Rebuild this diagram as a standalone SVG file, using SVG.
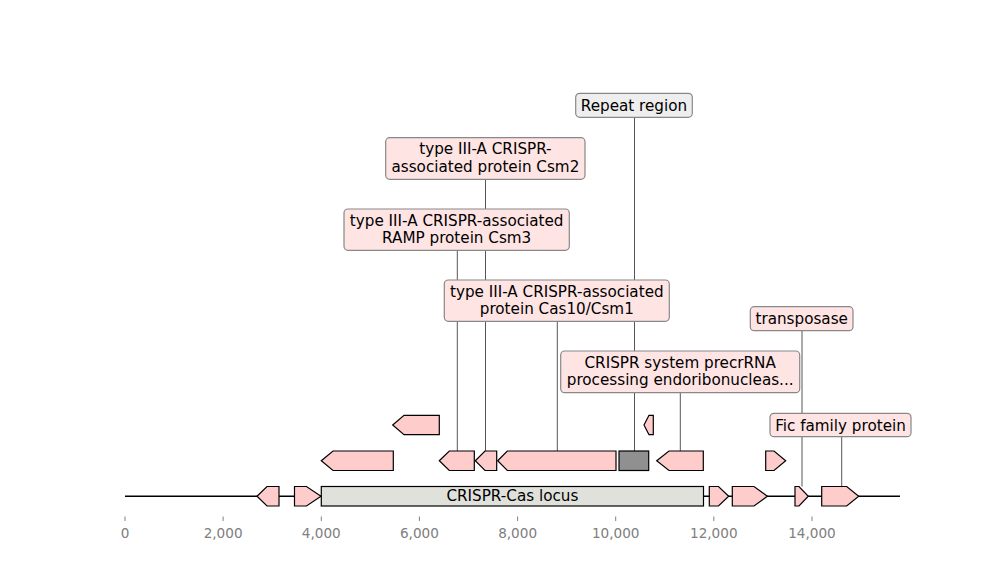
<svg xmlns="http://www.w3.org/2000/svg" width="1000" height="580" viewBox="0 0 1000 580">
<style>
.feat{fill:#ffcccc;stroke:#000;stroke-width:1.2;stroke-linejoin:miter}
.lbl{fill:#ffe4e4;stroke:#888;stroke-width:1.2}
.lblg{fill:#eeeeee;stroke:#888;stroke-width:1.2}
.t{font-family:"DejaVu Sans",sans-serif;font-size:15.2px;fill:#000;text-anchor:middle}
.conn{stroke:#444;stroke-width:0.9;fill:none}
.tick{stroke:#808080;stroke-width:1}
.ax{font-family:"DejaVu Sans",sans-serif;font-size:13.6px;fill:#808080;text-anchor:middle}
</style>
<rect width="1000" height="580" fill="#fff"/>
<g id="connectors">
<line class="conn" x1="485.5" y1="179.3" x2="485.5" y2="451"/>
<line class="conn" x1="457.3" y1="250.3" x2="457.3" y2="451"/>
<line class="conn" x1="557.3" y1="321.3" x2="557.3" y2="451"/>
<line class="conn" x1="634.5" y1="117.3" x2="634.5" y2="451"/>
<line class="conn" x1="680.3" y1="392.7" x2="680.3" y2="451"/>
<line class="conn" x1="802" y1="330.7" x2="802" y2="486.5"/>
<line class="conn" x1="841.7" y1="436.7" x2="841.7" y2="486.5"/>
</g>
<g id="axis">
<line x1="125" y1="496.25" x2="900" y2="496.25" stroke="#000" stroke-width="1.6"/>
<line class="tick" x1="125" y1="516.5" x2="125" y2="521"/>
<line class="tick" x1="223.1" y1="516.5" x2="223.1" y2="521"/>
<line class="tick" x1="321.3" y1="516.5" x2="321.3" y2="521"/>
<line class="tick" x1="419.4" y1="516.5" x2="419.4" y2="521"/>
<line class="tick" x1="517.6" y1="516.5" x2="517.6" y2="521"/>
<line class="tick" x1="615.7" y1="516.5" x2="615.7" y2="521"/>
<line class="tick" x1="713.8" y1="516.5" x2="713.8" y2="521"/>
<line class="tick" x1="812" y1="516.5" x2="812" y2="521"/>
<text class="ax" x="125" y="537.7">0</text>
<text class="ax" x="223.1" y="537.7">2,000</text>
<text class="ax" x="321.3" y="537.7">4,000</text>
<text class="ax" x="419.4" y="537.7">6,000</text>
<text class="ax" x="517.6" y="537.7">8,000</text>
<text class="ax" x="615.7" y="537.7">10,000</text>
<text class="ax" x="713.8" y="537.7">12,000</text>
<text class="ax" x="812" y="537.7">14,000</text>
</g>
<g id="f-a1"><polygon class="feat" points="257,496.25 267,486.5 279,486.5 279,506 267,506"/></g>
<g id="f-a2"><polygon class="feat" points="294.5,486.5 306.5,486.5 321,496.25 306.5,506 294.5,506"/></g>
<g id="f-locus"><rect x="321.3" y="486.5" width="382.2" height="19.5" fill="#e1e1dc" stroke="#000" stroke-width="1.2"/><text class="t" x="512.4" y="501.3">CRISPR-Cas locus</text></g>
<g id="f-a3"><polygon class="feat" points="709.3,486.5 718.5,486.5 728.7,496.25 718.5,506 709.3,506"/></g>
<g id="f-a4"><polygon class="feat" points="732.3,486.5 754,486.5 767.3,496.25 754,506 732.3,506"/></g>
<g id="f-a5"><polygon class="feat" points="795,486.5 799,486.5 808.3,496.25 799,506 795,506"/></g>
<g id="f-a6"><polygon class="feat" points="821.7,486.5 846.7,486.5 858.7,496.25 846.7,506 821.7,506"/></g>
<g id="f-b1"><polygon class="feat" points="321.3,460.75 333,451 393.3,451 393.3,470.5 333,470.5"/></g>
<g id="f-b2"><polygon class="feat" points="439.3,460.75 449.3,451 474.3,451 474.3,470.5 449.3,470.5"/></g>
<g id="f-b3"><polygon class="feat" points="475.3,460.75 485,451 496.7,451 496.7,470.5 485,470.5"/></g>
<g id="f-b4"><polygon class="feat" points="497.7,460.75 507.3,451 616,451 616,470.5 507.3,470.5"/></g>
<g id="f-repeat"><rect x="619" y="451" width="29.7" height="19.5" fill="#909090" stroke="#000" stroke-width="1.2"/></g>
<g id="f-b5"><polygon class="feat" points="656.7,460.75 669,451 703.3,451 703.3,470.5 669,470.5"/></g>
<g id="f-b6"><polygon class="feat" points="765.7,451 774,451 785.7,460.75 774,470.5 765.7,470.5"/></g>
<g id="f-c1"><polygon class="feat" points="392.7,425 404,415.3 439.3,415.3 439.3,434.7 404,434.7"/></g>
<g id="f-c2"><polygon class="feat" points="644,425 649,415.3 653.3,415.3 653.3,434.7 649,434.7"/></g>
<g id="l-repeat"><rect class="lblg" x="575.7" y="93.3" width="116.6" height="24" rx="4"/><text class="t" x="634" y="110.7">Repeat region</text></g>
<g id="l-csm2"><rect class="lbl" x="385.7" y="137.7" width="199.3" height="41.6" rx="4"/><text class="t" x="485.4" y="154.3">type III-A CRISPR-</text><text class="t" x="485.4" y="171.7">associated protein Csm2</text></g>
<g id="l-csm3"><rect class="lbl" x="344" y="209" width="225.3" height="41.3" rx="4"/><text class="t" x="456.7" y="225.6">type III-A CRISPR-associated</text><text class="t" x="456.7" y="243">RAMP protein Csm3</text></g>
<g id="l-cas10"><rect class="lbl" x="444.3" y="280" width="225" height="41.3" rx="4"/><text class="t" x="556.8" y="296.6">type III-A CRISPR-associated</text><text class="t" x="556.8" y="314">protein Cas10/Csm1</text></g>
<g id="l-transposase"><rect class="lbl" x="750.3" y="306.7" width="102.7" height="24" rx="4"/><text class="t" x="801.7" y="324">transposase</text></g>
<g id="l-precrrna"><rect class="lbl" x="560.7" y="351" width="239" height="41.7" rx="4"/><text class="t" x="680.2" y="367.6">CRISPR system precrRNA</text><text class="t" x="680.2" y="385">processing endoribonucleas...</text></g>
<g id="l-fic"><rect class="lbl" x="770" y="413.3" width="141" height="23.4" rx="4"/><text class="t" x="840.5" y="430.7">Fic family protein</text></g>
</svg>
